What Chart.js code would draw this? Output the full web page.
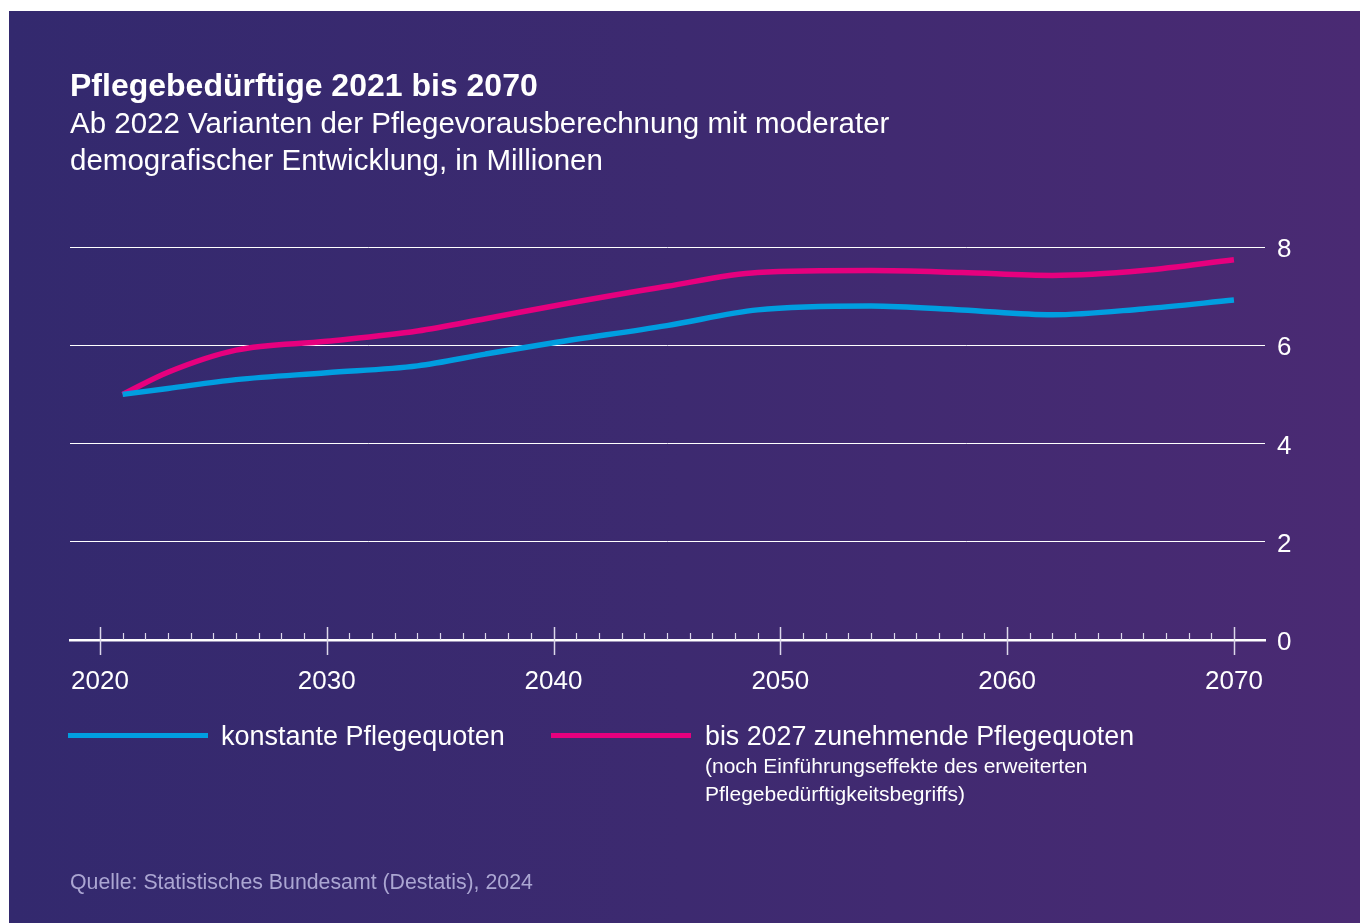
<!DOCTYPE html>
<html lang="de">
<head>
<meta charset="utf-8">
<script src="https://cdn.jsdelivr.net/npm/chart.js@4.4.1/dist/chart.umd.min.js"></script>
<style>
  html, body { margin: 0; padding: 0; background: #ffffff; width: 1360px; height: 923px; overflow: hidden; }
  #panel { position: absolute; left: 9px; top: 11px; width: 1351px; height: 912px;
           background: linear-gradient(90deg, #33296e 0%, #3d2a70 50%, #4a2a73 100%); }
  #chartWrap { position: absolute; left: 0; top: 0; width: 1360px; height: 923px; }
  .t { position: absolute; color: #ffffff; font-family: "Liberation Sans", Arial, Helvetica, sans-serif; white-space: nowrap; }
  #title { left: 70px; top: 69px; font-size: 32px; line-height: 32px; font-weight: bold; }
  #subtitle { left: 70px; top: 104px; font-size: 29.5px; line-height: 37px; }
  .legline { position: absolute; height: 5px; top: 733px; width: 140px; }
  #leg1line { left: 68px; background: #009ee0; }
  #leg2line { left: 551px; background: #e6007e; }
  #leg1text { left: 221px; top: 723px; font-size: 27px; line-height: 27px; }
  #leg2text { left: 705px; top: 723px; font-size: 26.8px; line-height: 27px; }
  #leg2sub { left: 705px; top: 752px; font-size: 21px; line-height: 28px; }
  #source { left: 70px; top: 872px; font-size: 21.3px; line-height: 21px; color: #aba6d2; }
</style>
</head>
<body>
<div id="panel"></div>
<div id="chartWrap"><canvas id="c" width="1360" height="923"></canvas></div>
<div class="t" id="title">Pflegebedürftige 2021 bis 2070</div>
<div class="t" id="subtitle">Ab 2022 Varianten der Pflegevorausberechnung mit moderater<br>demografischer Entwicklung, in Millionen</div>
<div class="legline" id="leg1line"></div>
<div class="t" id="leg1text">konstante Pflegequoten</div>
<div class="legline" id="leg2line"></div>
<div class="t" id="leg2text">bis 2027 zunehmende Pflegequoten</div>
<div class="t" id="leg2sub">(noch Einführungseffekte des erweiterten<br>Pflegebedürftigkeitsbegriffs)</div>
<div class="t" id="source">Quelle: Statistisches Bundesamt (Destatis), 2024</div>
<script>
// ---- data ----
const years = [2021, 2023, 2026, 2030, 2034, 2037, 2040, 2045, 2049, 2054, 2058, 2062, 2066, 2070];
const konstante = [5.00, 5.12, 5.30, 5.44, 5.58, 5.82, 6.05, 6.40, 6.72, 6.80, 6.72, 6.62, 6.74, 6.92];
const zunehmende = [5.00, 5.45, 5.90, 6.08, 6.29, 6.54, 6.80, 7.20, 7.48, 7.52, 7.48, 7.42, 7.52, 7.74];
const xTickValues = [2020, 2030, 2040, 2050, 2060, 2070];
const yTickValues = [0, 2, 4, 6, 8];
const seriesNames = ["konstante Pflegequoten", "bis 2027 zunehmende Pflegequoten"];

const toPoints = vals => years.map((y, i) => ({ x: y, y: vals[i] }));

const axisTicksPlugin = {
  id: 'axisTicks',
  afterDraw(chart) {
    const xs = chart.scales.x;
    const ctx = chart.ctx;
    const base = chart.chartArea.bottom;
    ctx.save();
    ctx.strokeStyle = '#dcd8ea';
    for (let yr = 2020; yr <= 2070; yr++) {
      const px = Math.round(xs.getPixelForValue(yr)) + 0.5;
      const major = yr % 10 === 0;
      ctx.lineWidth = major ? 1.5 : 1.2;
      ctx.beginPath();
      if (major) { ctx.moveTo(px, base - 13); ctx.lineTo(px, base + 15); }
      else { ctx.moveTo(px, base - 7); ctx.lineTo(px, base); }
      ctx.stroke();
    }
    ctx.restore();
  }
};

new Chart(document.getElementById('c'), {
  type: 'line',
  data: {
    datasets: [
      { label: seriesNames[0], data: toPoints(konstante), borderColor: '#009ee0', borderWidth: 5.5,
        pointRadius: 0, cubicInterpolationMode: 'monotone', fill: false },
      { label: seriesNames[1], data: toPoints(zunehmende), borderColor: '#e6007e', borderWidth: 5.5,
        pointRadius: 0, cubicInterpolationMode: 'monotone', fill: false }
    ]
  },
  options: {
    responsive: false,
    animation: false,
    events: [],
    layout: { padding: { left: 70, top: 247, right: 35, bottom: 223 } },
    plugins: { legend: { display: false }, tooltip: { enabled: false }, title: { display: false } },
    scales: {
      x: {
        type: 'linear', position: 'bottom',
        min: 2018.68, max: 2071.37,
        afterBuildTicks: s => { s.ticks = xTickValues.map(v => ({ value: v })); },
        afterFit: s => { s.height = 60; },
        grid: { display: false, drawTicks: false },
        border: { display: true, color: '#ffffff', width: 2.5 },
        ticks: { color: '#ffffff', padding: 26, maxRotation: 0, autoSkip: false,
                 font: { family: '"Liberation Sans", Arial, sans-serif', size: 26 },
                 callback: v => String(v) }
      },
      y: {
        type: 'linear', position: 'right',
        min: 0, max: 8,
        afterBuildTicks: s => { s.ticks = yTickValues.map(v => ({ value: v })); },
        afterFit: s => { s.width = 60; },
        grid: { color: '#ffffff', lineWidth: 1, drawTicks: false },
        border: { display: false },
        ticks: { color: '#ffffff', padding: 12, labelOffset: 3,
                 font: { family: '"Liberation Sans", Arial, sans-serif', size: 26 },
                 callback: v => String(v) }
      }
    }
  },
  plugins: [axisTicksPlugin]
});
</script>
</body>
</html>
